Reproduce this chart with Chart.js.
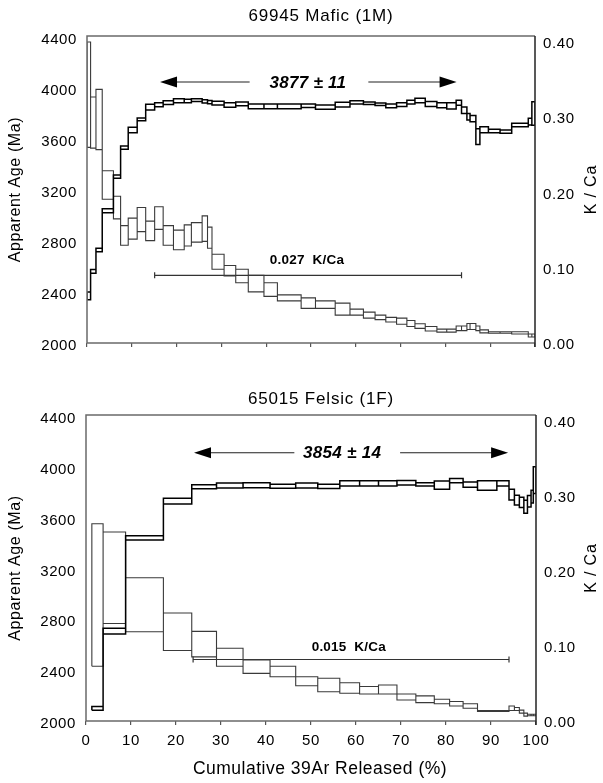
<!DOCTYPE html>
<html>
<head>
<meta charset="utf-8">
<script src="https://cdn.jsdelivr.net/npm/chart.js@4.4.1/dist/chart.umd.min.js"></script>
<style>
  html, body { margin: 0; padding: 0; background: #fff; }
  #wrap { position: relative; width: 603px; height: 783px; }
  #wrap canvas { position: absolute; left: 0; }
</style>
</head>
<body>
<div id="wrap">
  <canvas id="mafic" width="603" height="390" style="top:0"></canvas>
  <canvas id="felsic" width="603" height="393" style="top:390px"></canvas>
</div>
<script>
// --- data ---
// 69945 Mafic (1M): step edges in cumulative 39Ar %, apparent age (Ma) and K/Ca per step
const maficEdges = [0, 0.8, 2.0, 3.4, 5.9, 7.5, 9.2, 11.2, 13.1, 15.1, 17.0, 19.3, 21.7, 23.3, 25.7, 26.9,
  27.9, 30.6, 33.2, 36.0, 39.5, 42.5, 47.8, 51.0, 55.4, 58.7, 61.7, 64.3, 66.7, 69.1, 71.4, 73.2,
  75.5, 78.1, 80.3, 82.4, 83.6, 84.8, 85.5, 86.8, 87.7, 89.6, 92.2, 94.8, 98.5, 99.3, 100];
const maficAge = [2370, 2562, 2730, 3037, 3305, 3532, 3671, 3754, 3850, 3869, 3885, 3900, 3898, 3905, 3895,
  3890, 3882, 3867, 3875, 3856, 3856, 3856, 3861, 3850, 3870, 3888, 3880, 3873, 3860, 3870, 3890, 3902,
  3875, 3865, 3860, 3885, 3826, 3775, 3760, 3618, 3673, 3663, 3658, 3710, 3736, 3800];
const maficAgeErr = [30, 15, 14, 16, 13, 13, 21, 11, 23, 16, 15, 15, 14, 10, 12, 13, 15, 18, 15, 18,
  18, 18, 13, 17, 18, 13, 10, 10, 15, 15, 15, 17, 20, 20, 25, 20, 26, 26, 25, 62, 23, 13, 13, 13, 26, 92];
const maficKCa = [0.33, 0.293, 0.297, 0.210, 0.180, 0.143, 0.152, 0.164, 0.149, 0.166, 0.143, 0.137, 0.143,
  0.147, 0.152, 0.140, 0.108, 0.096, 0.089, 0.079, 0.071, 0.060, 0.053, 0.051, 0.045, 0.041, 0.037, 0.034,
  0.031, 0.029, 0.026, 0.0225, 0.019, 0.0165, 0.0165, 0.0195, 0.0195, 0.022, 0.022, 0.0195, 0.0155, 0.014,
  0.014, 0.0135, 0.010, 0.010];
const maficKCaErr = [0.07, 0.034, 0.040, 0.019, 0.015, 0.013, 0.014, 0.016, 0.013, 0.015, 0.013, 0.013,
  0.014, 0.013, 0.017, 0.014, 0.010, 0.007, 0.009, 0.011, 0.009, 0.004, 0.007, 0.005, 0.008, 0.004, 0.004,
  0.003, 0.003, 0.004, 0.004, 0.003, 0.003, 0.002, 0.002, 0.003, 0.003, 0.004, 0.004, 0.003, 0.002, 0.001,
  0.001, 0.0015, 0.002, 0.002];

// 65015 Felsic (1F)
const felsicEdges = [1.3, 3.8, 8.8, 17.2, 23.5, 29.0, 34.9, 40.9, 46.6, 51.5, 56.4, 60.8, 65.0, 69.1,
  73.3, 77.4, 80.8, 83.8, 87.0, 91.3, 94.0, 95.2, 96.3, 97.3, 98.1, 98.9, 99.4, 100];
const felsicAge = [2100, 2707, 3441, 3730, 3844, 3853, 3855, 3848, 3853, 3847, 3870, 3870, 3870, 3875,
  3862, 3856, 3892, 3860, 3853, 3870, 3781, 3738, 3720, 3686, 3730, 3765, 3896];
const felsicAgeErr = [15, 22, 17, 22, 16, 20, 20, 16, 20, 17, 20, 20, 20, 17, 13, 33, 17, 20, 37, 20,
  42, 39, 40, 52, 45, 50, 105];
const felsicKCa = [0.168, 0.191, 0.155, 0.119, 0.1025, 0.085, 0.0725, 0.066, 0.053, 0.048, 0.044, 0.041,
  0.042, 0.032, 0.029, 0.026, 0.023, 0.020, 0.0133, 0.0133, 0.017, 0.016, 0.0125, 0.0085, 0.008, 0.008, 0.008];
const felsicKCaErr = [0.095, 0.061, 0.036, 0.025, 0.017, 0.012, 0.009, 0.007, 0.006, 0.009, 0.007, 0.005,
  0.006, 0.004, 0.0045, 0.003, 0.003, 0.003, 0.0006, 0.0006, 0.003, 0.002, 0.002, 0.002, 0.001, 0.001, 0.001];

// axes
const xTicks = [0, 10, 20, 30, 40, 50, 60, 70, 80, 90, 100];
const ageTicks = [2000, 2400, 2800, 3200, 3600, 4000, 4400];
const kcaTicks = [0, 0.1, 0.2, 0.3, 0.4];

// plateau arrows: [left tip, left end, right start, right tip] in %, age level, label
const maficPlateau = { label: '3877 \u00b1 11', x: [16.3, 36.3, 62.8, 82.5], textX: 49.3, age: 4047 };
const felsicPlateau = { label: '3854 \u00b1 14', x: [24.0, 46.3, 69.8, 93.8], textX: 56.9, age: 4111 };
// mean K/Ca range bars
const maficKCaBar = { label: '0.027  K/Ca', from: 15.1, to: 83.6, level: 0.090, textX: 49.1, textLevel: 0.110 };
const felsicKCaBar = { label: '0.015  K/Ca', from: 23.8, to: 94.0, level: 0.082, textX: 58.4, textLevel: 0.098 };

const FONT = '"Liberation Sans", Arial, Helvetica, sans-serif';
Chart.defaults.font.family = FONT;
Chart.defaults.color = '#000';

// each step is a box x0..x1, value-err..value+err; upper and lower edges are joined
// into staircases from step to step, like the plotting program does
function spectrumPath(edges, vals, errs) {
  const pts = [];
  const upper = [], lower = [];
  vals.forEach((v, i) => {
    const x0 = edges[i], x1 = edges[i + 1];
    const lo = v - errs[i], hi = v + errs[i];
    pts.push({x: x0, y: lo}, {x: x0, y: hi}, {x: x1, y: hi}, {x: x1, y: lo}, {x: x0, y: lo}, {x: x1, y: null});
    upper.push({x: x0, y: hi}, {x: x1, y: hi});
    lower.push({x: x0, y: lo}, {x: x1, y: lo});
  });
  return pts.concat(upper, [{x: 100, y: null}], lower);
}

function barPath(bar, cap) {
  return [
    {x: bar.from, y: bar.level}, {x: bar.to, y: bar.level}, {x: bar.to, y: null},
    {x: bar.from, y: bar.level - cap}, {x: bar.from, y: bar.level + cap}, {x: bar.from, y: null},
    {x: bar.to, y: bar.level - cap}, {x: bar.to, y: bar.level + cap}
  ];
}

// frame, titles, plateau arrows, labels
const panelDecor = {
  id: 'panelDecor',
  beforeDraw(chart) {
    chart.ctx.letterSpacing = '0.6px';
  },
  afterDraw(chart, args, o) {
    const {ctx, chartArea: a, scales} = chart;
    const x = scales.x, y = scales.y, y2 = scales.y2;
    ctx.save();
    // box around plot
    ctx.lineWidth = 1.5;
    ctx.strokeStyle = '#6a6a6a';
    ctx.beginPath();
    ctx.moveTo(a.right, a.top); ctx.lineTo(a.left, a.top); ctx.lineTo(a.left, a.bottom); ctx.lineTo(a.right, a.bottom);
    ctx.stroke();
    ctx.strokeStyle = '#222';
    ctx.beginPath();
    ctx.moveTo(a.right, a.top); ctx.lineTo(a.right, a.bottom + 4);
    ctx.stroke();

    ctx.fillStyle = '#000';
    ctx.textAlign = 'center';
    ctx.textBaseline = 'middle';
    // panel title
    ctx.letterSpacing = '0.8px';
    ctx.font = '17px ' + FONT;
    ctx.fillText(o.title, o.titleX, o.titleY);
    // right axis title, reading upward
    ctx.font = '16px ' + FONT;
    ctx.save();
    ctx.translate(592, (a.top + a.bottom) / 2);
    ctx.rotate(-Math.PI / 2);
    ctx.fillText('K / Ca', 0, 0);
    ctx.restore();
    // x axis title
    if (o.xTitle) {
      ctx.font = '17.5px ' + FONT;
      ctx.letterSpacing = '0.5px';
      ctx.fillText(o.xTitle, 320, chart.height - 14);
    }

    // plateau arrows
    const p = o.plateau;
    const py = y.getPixelForValue(p.age);
    const [t1, e1, s2, t2] = p.x.map(v => x.getPixelForValue(v));
    ctx.strokeStyle = '#222';
    ctx.lineWidth = 1.2;
    ctx.beginPath();
    ctx.moveTo(t1 + 10, py); ctx.lineTo(e1, py);
    ctx.moveTo(s2, py); ctx.lineTo(t2 - 10, py);
    ctx.stroke();
    ctx.beginPath();
    ctx.moveTo(t1, py); ctx.lineTo(t1 + 17, py - 5.5); ctx.lineTo(t1 + 17, py + 5.5); ctx.closePath();
    ctx.moveTo(t2, py); ctx.lineTo(t2 - 17, py - 5.5); ctx.lineTo(t2 - 17, py + 5.5); ctx.closePath();
    ctx.fill();
    ctx.font = 'italic bold 17px ' + FONT;
    ctx.letterSpacing = '0.3px';
    ctx.fillText(p.label, x.getPixelForValue(p.textX), py + 1);

    // K/Ca label
    const b = o.bar;
    ctx.font = 'bold 13.5px ' + FONT;
    ctx.letterSpacing = '0.2px';
    ctx.fillText(b.label, x.getPixelForValue(b.textX), y2.getPixelForValue(b.textLevel));
    ctx.restore();
  }
};

function makePanel(id, d) {
  const dsBase = { pointRadius: 0, tension: 0, fill: false, spanGaps: false, borderJoinStyle: 'miter' };
  return new Chart(document.getElementById(id), {
    type: 'line',
    data: {
      datasets: [
        Object.assign({ label: 'Age', data: spectrumPath(d.edges, d.age, d.ageErr), yAxisID: 'y',
          borderColor: '#000', borderWidth: 1.5 }, dsBase),
        Object.assign({ label: 'K/Ca', data: spectrumPath(d.edges, d.kca, d.kcaErr), yAxisID: 'y2',
          borderColor: '#3a3a3a', borderWidth: 1.1 }, dsBase),
        Object.assign({ label: 'mean K/Ca', data: barPath(d.bar, 0.004), yAxisID: 'y2',
          borderColor: '#333', borderWidth: 1.2 }, dsBase)
      ]
    },
    options: {
      responsive: false,
      animation: false,
      events: [],
      layout: { padding: { top: d.padTop, left: 0, right: 0, bottom: 0 } },
      scales: {
        x: {
          type: 'linear', min: 0, max: 100, position: 'bottom',
          afterFit: s => { s.height = d.xHeight; },
          afterBuildTicks: s => { s.ticks = xTicks.map(v => ({value: v})); },
          ticks: { display: d.showX, font: { size: 15 }, padding: 7, maxRotation: 0, callback: v => String(v) },
          grid: { drawOnChartArea: false, drawTicks: true, tickLength: 4, color: '#555', lineWidth: 1.2 },
          border: { display: false }
        },
        y: {
          type: 'linear', position: 'left', min: 2000, max: 4408,
          afterFit: s => { s.width = d.leftW; },
          afterBuildTicks: s => { s.ticks = ageTicks.map(v => ({value: v})); },
          ticks: { font: { size: 15 }, padding: 10, labelOffset: 3, callback: v => String(v) },
          grid: { drawOnChartArea: false, drawTicks: false },
          border: { display: false },
          title: { display: true, text: 'Apparent Age (Ma)', font: { size: 16 }, padding: { top: 6, bottom: 0 } }
        },
        y2: {
          type: 'linear', position: 'right', min: 0, max: 0.408,
          afterFit: s => { s.width = d.rightW; },
          afterBuildTicks: s => { s.ticks = kcaTicks.map(v => ({value: v})); },
          ticks: { font: { size: 15 }, padding: 8, labelOffset: 2, callback: v => v.toFixed(2) },
          grid: { drawOnChartArea: false, drawTicks: false },
          border: { display: false }
        }
      },
      plugins: {
        legend: { display: false },
        tooltip: { enabled: false },
        panelDecor: { title: d.title, titleX: 321, titleY: d.titleY, plateau: d.plateau, bar: d.bar, xTitle: d.xTitle }
      }
    },
    plugins: [panelDecor]
  });
}

makePanel('mafic', {
  edges: maficEdges, age: maficAge, ageErr: maficAgeErr, kca: maficKCa, kcaErr: maficKCaErr,
  plateau: maficPlateau, bar: maficKCaBar, title: '69945 Mafic (1M)', titleY: 16,
  padTop: 36, xHeight: 47, leftW: 87, rightW: 68, showX: false, xTitle: null
});
makePanel('felsic', {
  edges: felsicEdges, age: felsicAge, ageErr: felsicAgeErr, kca: felsicKCa, kcaErr: felsicKCaErr,
  plateau: felsicPlateau, bar: felsicKCaBar, title: '65015 Felsic (1F)', titleY: 9,
  padTop: 25, xHeight: 62, leftW: 86, rightW: 67, showX: true, xTitle: 'Cumulative 39Ar Released (%)'
});
</script>
</body>
</html>
